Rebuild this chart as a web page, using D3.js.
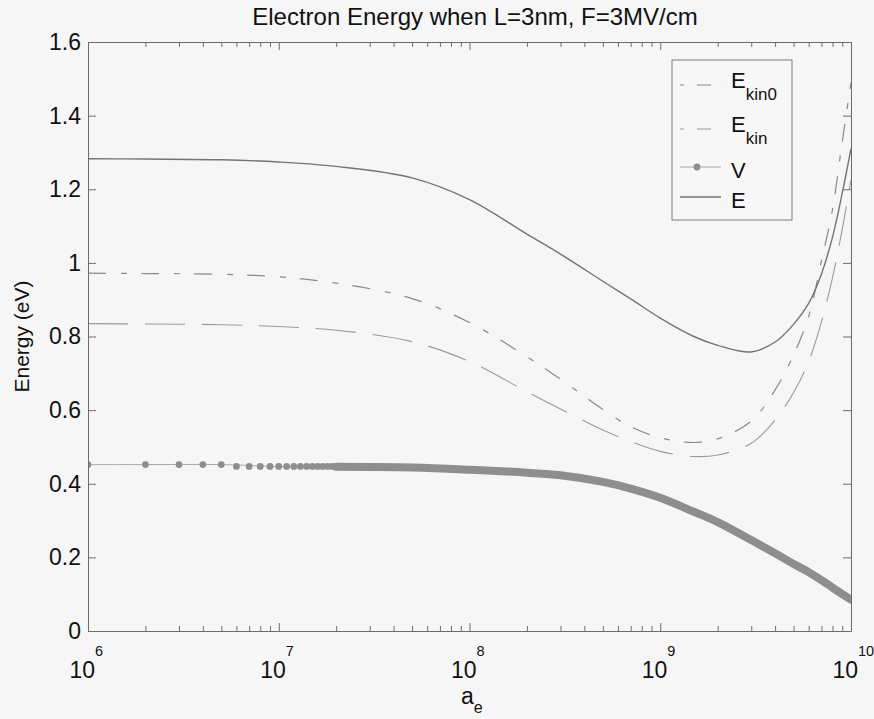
<!DOCTYPE html>
<html>
<head>
<meta charset="utf-8">
<script src="https://cdn.jsdelivr.net/npm/d3@7/dist/d3.min.js"></script>
<style>
body { margin: 0; background: #f6f6f6; }
svg { display: block; font-family: "Liberation Sans", Arial, sans-serif; }
.axis path, .axis line { stroke: #6c6c6c; stroke-width: 1; }
.axis text { fill: #111; }
</style>
</head>
<body>
<svg id="chart"></svg>
<script>
// a_e sample points
var aSamples = [1e6, 2e6, 5e6, 1e7, 2e7, 5e7, 1e8, 2e8, 3e8, 5e8, 7e8, 1e9, 1.5e9, 2e9, 3e9, 4e9, 5e9, 6e9, 7e9, 8e9, 9e9, 1e10];
var eKin0 = [0.972, 0.971, 0.969, 0.962, 0.945, 0.903, 0.838, 0.745, 0.684, 0.602, 0.555, 0.525, 0.512, 0.522, 0.570, 0.655, 0.750, 0.855, 1.005, 1.145, 1.330, 1.490];
var eKin  = [0.835, 0.834, 0.832, 0.827, 0.817, 0.786, 0.732, 0.650, 0.603, 0.546, 0.515, 0.488, 0.474, 0.478, 0.510, 0.573, 0.648, 0.732, 0.840, 0.960, 1.092, 1.225];
var vPot  = [0.452, 0.452, 0.452, 0.447, 0.446, 0.444, 0.438, 0.430, 0.423, 0.405, 0.387, 0.362, 0.324, 0.296, 0.247, 0.211, 0.182, 0.160, 0.138, 0.118, 0.100, 0.085];
var eTot  = [1.283, 1.282, 1.280, 1.274, 1.262, 1.231, 1.172, 1.078, 1.024, 0.950, 0.902, 0.850, 0.800, 0.776, 0.758, 0.785, 0.833, 0.890, 0.970, 1.070, 1.190, 1.310];

// V markers, one every 1e6 (units of 1e6) until they merge into a band
var vMarkA = [1, 2, 3, 4, 5, 6, 7, 8, 9, 10, 11, 12, 13, 14, 15, 16, 17, 18, 19, 20, 21, 22, 23, 24, 25, 26, 27, 28, 29, 30];
var vMarkV = [0.452, 0.452, 0.452, 0.452, 0.452, 0.447, 0.447, 0.447, 0.447, 0.447,
              0.447, 0.447, 0.447, 0.447, 0.447, 0.447, 0.447, 0.447, 0.447, 0.446,
              0.446, 0.446, 0.446, 0.446, 0.446, 0.446, 0.446, 0.446, 0.446, 0.446];

var yTicks = [0, 0.2, 0.4, 0.6, 0.8, 1, 1.2, 1.4, 1.6];
var legendMain = ['E', 'E', 'V', 'E'];
var legendSub = ['kin0', 'kin', '', ''];

var W = 874, H = 719;
var x = d3.scaleLog().domain([1e6, 1e10]).range([88, 851]);
var y = d3.scaleLinear().domain([0, 1.6]).range([631, 42]);

var svg = d3.select('#chart').attr('width', W).attr('height', H);
svg.append('rect').attr('width', W).attr('height', H).attr('fill', '#f6f6f6');

svg.append('clipPath').attr('id', 'plotclip').append('rect')
    .attr('x', x.range()[0]).attr('y', y.range()[1])
    .attr('width', x.range()[1] - x.range()[0]).attr('height', y.range()[0] - y.range()[1]);

var pts = function(vals) {
    return aSamples.map(function(a, i) { return [a, vals[i]]; });
};
var line = d3.line()
    .x(function(d) { return x(d[0]); })
    .y(function(d) { return y(d[1]); })
    .curve(d3.curveCatmullRom.alpha(0.5));

var plot = svg.append('g').attr('clip-path', 'url(#plotclip)');

// V : thin line, dense marker band, then single markers
plot.append('path').attr('d', line(pts(vPot)))
    .attr('fill', 'none').attr('stroke', '#a8a8a8').attr('stroke-width', 1);
plot.append('path').attr('d', line(pts(vPot).filter(function(d) { return d[0] >= 2e7; })))
    .attr('fill', 'none').attr('stroke', '#8e8e8e').attr('stroke-width', 8)
    .attr('stroke-linecap', 'round');
plot.selectAll('circle.vm').data(vMarkA).enter().append('circle')
    .attr('class', 'vm')
    .attr('cx', function(d) { return x(d * 1e6); })
    .attr('cy', function(d, i) { return y(vMarkV[i]); })
    .attr('r', 3.4)
    .attr('fill', '#8e8e8e');

plot.append('path').attr('d', line(pts(eKin)))
    .attr('fill', 'none').attr('stroke', '#9a9a9a').attr('stroke-width', 1.1)
    .attr('stroke-dasharray', '40,17');
plot.append('path').attr('d', line(pts(eKin0)))
    .attr('fill', 'none').attr('stroke', '#8a8a8a').attr('stroke-width', 1.2)
    .attr('stroke-dasharray', '18,15,6,14');
plot.append('path').attr('d', line(pts(eTot)))
    .attr('fill', 'none').attr('stroke', '#747474').attr('stroke-width', 1.4);

// axes, ticks point inward like the original
var major = x.ticks().filter(function(t) { return Math.abs(Math.log10(t) % 1) < 1e-9; });
var minor = x.ticks().filter(function(t) { return Math.abs(Math.log10(t) % 1) >= 1e-9; });

svg.append('g').attr('class', 'axis').attr('transform', 'translate(0,' + y(0) + ')')
    .call(d3.axisBottom(x).tickValues(major).tickSize(-8).tickSizeOuter(0).tickFormat(''));
svg.append('g').attr('class', 'axis').attr('transform', 'translate(0,' + y(0) + ')')
    .call(d3.axisBottom(x).tickValues(minor).tickSize(-5).tickSizeOuter(0).tickFormat(''))
    .select('.domain').remove();
svg.append('g').attr('class', 'axis').attr('transform', 'translate(0,' + y(1.6) + ')')
    .call(d3.axisTop(x).tickValues(major).tickSize(-8).tickSizeOuter(0).tickFormat(''));
svg.append('g').attr('class', 'axis').attr('transform', 'translate(0,' + y(1.6) + ')')
    .call(d3.axisTop(x).tickValues(minor).tickSize(-5).tickSizeOuter(0).tickFormat(''))
    .select('.domain').remove();

svg.append('g').attr('class', 'axis').attr('transform', 'translate(' + x(1e6) + ',0)')
    .call(d3.axisLeft(y).tickValues(yTicks).tickSize(-8).tickSizeOuter(0).tickPadding(7)
        .tickFormat(function(d) { return String(+d.toFixed(1)); }))
    .selectAll('text').attr('font-size', 23).attr('font-family', '"Liberation Sans", Arial, sans-serif');
svg.append('g').attr('class', 'axis').attr('transform', 'translate(' + x(1e10) + ',0)')
    .call(d3.axisRight(y).tickValues(yTicks).tickSize(-8).tickSizeOuter(0).tickFormat(''));

// x tick labels 10^n
var xl = svg.append('g').selectAll('g').data(major).enter().append('g');
xl.append('text')
    .attr('x', function(d) { return x(d) + 7; })
    .attr('y', 678)
    .attr('text-anchor', 'end')
    .attr('font-size', 23).attr('fill', '#111')
    .text('10');
xl.append('text')
    .attr('x', function(d) { return x(d) + 7; })
    .attr('y', 656)
    .attr('font-size', 14.5).attr('fill', '#111')
    .text(function(d) { return Math.round(Math.log10(d)); });

// titles
svg.append('text').attr('x', 475).attr('y', 25).attr('text-anchor', 'middle')
    .attr('font-size', 24).attr('fill', '#111')
    .text('Electron Energy when L=3nm, F=3MV/cm');
var xt = svg.append('text').attr('x', 461).attr('y', 704).attr('font-size', 23).attr('fill', '#111');
xt.append('tspan').text('a');
xt.append('tspan').attr('dy', 9).attr('font-size', 16).text('e');
svg.append('text').attr('transform', 'translate(29,' + ((y(0) + y(1.6)) / 2) + ') rotate(-90)')
    .attr('text-anchor', 'middle').attr('font-size', 21).attr('fill', '#111')
    .text('Energy (eV)');

// legend
var legend = svg.append('g');
legend.append('rect').attr('x', 672).attr('y', 60).attr('width', 120).attr('height', 160)
    .attr('fill', '#f7f7f7').attr('stroke', '#7a7a7a').attr('stroke-width', 1);
var rowY = [85, 129, 167, 197];
var rowStyle = [
    {stroke: '#8a8a8a', dash: '4,13,14,14', w: 1.2},
    {stroke: '#9a9a9a', dash: '4,13,14,14', w: 1.1},
    {stroke: '#a8a8a8', dash: null, w: 1},
    {stroke: '#747474', dash: null, w: 1.4}
];
legendMain.forEach(function(m, i) {
    var st = rowStyle[i];
    legend.append('line').attr('x1', 680).attr('x2', 721).attr('y1', rowY[i]).attr('y2', rowY[i])
        .attr('stroke', st.stroke).attr('stroke-width', st.w)
        .attr('stroke-dasharray', st.dash);
    if (m === 'V') {
        legend.append('circle').attr('cx', 697).attr('cy', rowY[i]).attr('r', 3.4).attr('fill', '#8e8e8e');
    }
    var t = legend.append('text').attr('x', 731)
        .attr('y', legendSub[i] ? rowY[i] + 3 : rowY[i] + 11)
        .attr('font-size', 22).attr('fill', '#111');
    t.append('tspan').text(m);
    if (legendSub[i]) {
        t.append('tspan').attr('dy', 12).attr('font-size', 17).text(legendSub[i]);
    }
});
</script>
</body>
</html>
